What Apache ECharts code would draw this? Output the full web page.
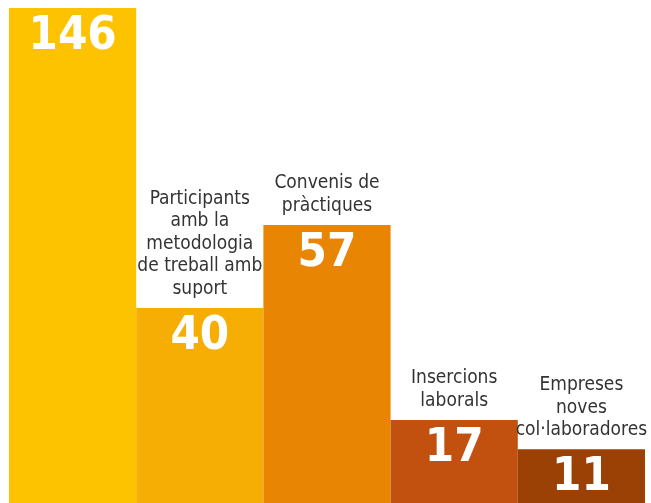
<!DOCTYPE html>
<html><head><meta charset="utf-8">
<script src="https://cdn.jsdelivr.net/npm/echarts@6/dist/echarts.min.js"></script>
<style>html,body{margin:0;padding:0;background:#fff}#c{width:651px;height:503px}</style>
</head><body><div id="c"></div>
<script>
const categoryNames = ['', 'Participants\namb la\nmetodologia\nde treball amb\nsuport', 'Convenis de\npràctiques', 'Insercions\nlaborals', 'Empreses\nnoves\ncol·laboradores'];
const values = [146, 40, 57, 17, 11];
const colors = ['#FDC300', '#F7AE04', '#E88502', '#C2500E', '#9C4106'];

const chart = echarts.init(document.getElementById('c'));
chart.setOption({
  animation: false,
  grid: {left: 9, right: 6, top: 8, bottom: 0},
  xAxis: {type: 'category', data: categoryNames.map((_, i) => 'c' + i), show: false},
  yAxis: {type: 'value', min: 0, max: 101.5, show: false},
  series: [
    {
      type: 'bar', barCategoryGap: 0, barGap: '-100%', clip: true,
      data: values.map((v, i) => ({value: v, itemStyle: {color: colors[i]}})),
      label: {show: true, position: 'insideTop', distance: 5, color: '#fff',
        fontFamily: 'DejaVu Sans Condensed, DejaVu Sans', fontWeight: 'bold', fontSize: 47,
        formatter: p => values[p.dataIndex]}
    },
    {
      type: 'bar', barCategoryGap: 0, barGap: '-100%', silent: true,
      data: values.map((v, i) => ({value: i === 0 ? 0 : v})),
      itemStyle: {color: 'rgba(0,0,0,0)'},
      label: {show: true, position: 'top', distance: 8, color: '#333',
        fontFamily: 'DejaVu Sans Condensed, sans-serif', fontSize: 19, lineHeight: 22.5,
        align: 'center',
        formatter: p => categoryNames[p.dataIndex]}
    }
  ]
});
</script></body></html>
